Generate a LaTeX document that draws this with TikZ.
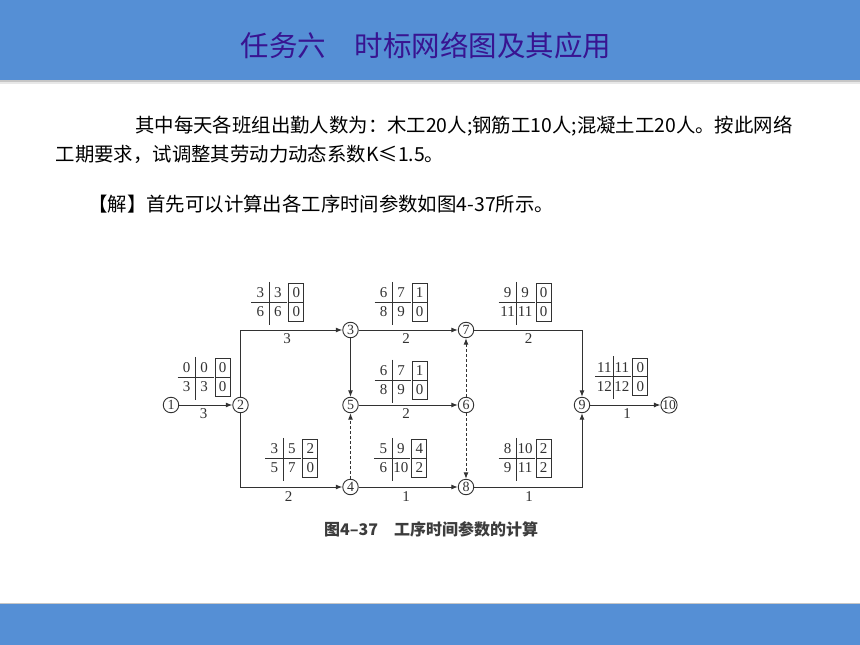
\documentclass[tikz,border=0pt]{standalone}
\usepackage{fontspec}
\usetikzlibrary{arrows.meta}
\newfontfamily\cjk{Noto Sans CJK SC}
\newfontfamily\dfont{Liberation Serif}
\definecolor{barblue}{RGB}{85,143,213}
\definecolor{titlecol}{RGB}{56,20,145}
\definecolor{lc}{RGB}{50,50,50}
\definecolor{capcol}{RGB}{60,60,60}
\tikzset{
  ev/.style={circle, draw=lc, line width=0.9pt, minimum size=15.5pt, inner sep=0pt, text=lc,
    font=\dfont\fontsize{14}{14}\selectfont},
  act/.style={draw=lc, line width=1pt, -{Latex[length=6.5pt,width=5pt]}},
  dum/.style={act, dash pattern=on 3pt off 2pt},
  lab/.style={inner sep=0pt, text=lc, font=\dfont\fontsize{15}{15}\selectfont},
  tl/.style={draw=lc, line width=0.9pt},
  tn/.style={inner sep=0pt, text=lc, font=\dfont\fontsize{15}{15}\selectfont},
  body/.style={anchor=base west, inner sep=0pt, text=black, font=\cjk\fontsize{19.4}{19.4}\selectfont}
}
% parameter table: name, cx, cy, TL, TR, BL, BR, box top, box bottom
\newcommand\ptab[9]{%
  \draw[tl] (#2-18,#3) -- (#2+18,#3);
  \draw[tl] (#2,#3-20.5) -- (#2,#3+22.5);
  \draw[tl] (#2+19.5,#3-18.5) rectangle (#2+34.5,#3+19);
  \draw[tl] (#2+19.5,#3) -- (#2+34.5,#3);
  \node[tn] (#1a) at (#2-9,#3-9.5) {#4};
  \node[tn] (#1b) at (#2+8.5,#3-9.5) {#5};
  \node[tn] (#1c) at (#2-9,#3+9.5) {#6};
  \node[tn] (#1d) at (#2+8.5,#3+9.5) {#7};
  \node[tn] (#1e) at (#2+27,#3-9.5) {#8};
  \node[tn] (#1f) at (#2+27,#3+9.5) {#9};
}
\begin{document}
\begin{tikzpicture}[x=1pt,y=-1pt]
\useasboundingbox (0,0) rectangle (860,645);
% bars
\fill[white] (0,0) rectangle (860,645);
\fill[gray!45] (0,80) rectangle (860,82);
\fill[gray!18] (0,82) rectangle (860,84);
\fill[barblue] (0,0) rectangle (860,80);
\fill[gray!45] (0,602.5) rectangle (860,604);
\fill[barblue] (0,604) rectangle (860,645);
% title
\node[anchor=base west, inner sep=0pt, text=titlecol, font=\cjk\fontsize{28.5}{28.5}\selectfont] (title) at (240.5,56.3) {任务六\hspace{28.5pt}时标网络图及其应用};
% body text
\node[body] (t1) at (135,132.5) {其中每天各班组出勤人数为：木工20人;钢筋工10人;混凝土工20人。按此网络};
\node[body] (t2) at (55.5,161.4) {工期要求，试调整其劳动力动态系数K≤1.5。};
\node[body] (t3) at (88,211.4) {【解】首先可以计算出各工序时间参数如图4-37所示。};
% events
\node[ev] (n1) at (171,405) {1};
\node[ev] (n2) at (240.5,405) {2};
\node[ev] (n3) at (350.5,330) {3};
\node[ev] (n4) at (350.5,487) {4};
\node[ev] (n5) at (350.5,405) {5};
\node[ev] (n6) at (466,405) {6};
\node[ev] (n7) at (466,330) {7};
\node[ev] (n8) at (466,487) {8};
\node[ev] (n9) at (582,405) {9};
\node[ev, font=\dfont\fontsize{13.5}{13.5}\selectfont] (n10) at (669,405) {10};
% activities
\draw[act] (n1) -- (n2);
\draw[act] (n2) |- (n3);
\draw[act] (n2) |- (n4);
\draw[act] (n3) -- (n7);
\draw[act] (n3) -- (n5);
\draw[act] (n5) -- (n6);
\draw[act] (n4) -- (n8);
\draw[act] (n7) -| (n9);
\draw[act] (n8) -| (n9);
\draw[act] (n9) -- (n10);
\draw[dum] (n4) -- (n5);
\draw[dum] (n6) -- (n7);
\draw[dum] (n6) -- (n8);
% durations
\node[lab] (d12) at (203.5,414) {3};
\node[lab] (d23) at (287,339) {3};
\node[lab] (d37) at (406,339) {2};
\node[lab] (d56) at (406,414) {2};
\node[lab] (d79) at (528.5,339) {2};
\node[lab] (d910) at (627,414) {1};
\node[lab] (d24) at (288.5,497) {2};
\node[lab] (d48) at (406,497) {1};
\node[lab] (d89) at (529,497) {1};
% parameter tables
\ptab{pa}{195.7}{377.3}{0}{0}{3}{3}{0}{0}
\ptab{pb}{269.3}{302.3}{3}{3}{6}{6}{0}{0}
\ptab{pc}{392.7}{302.3}{6}{7}{8}{9}{1}{0}
\ptab{pd}{392.7}{380}{6}{7}{8}{9}{1}{0}
\ptab{pe}{516.7}{302.3}{9}{9}{11}{11}{0}{0}
\ptab{pf}{613.3}{376.7}{11}{11}{12}{12}{0}{0}
\ptab{pg}{283.3}{458.3}{3}{5}{5}{7}{2}{0}
\ptab{ph}{392.3}{458.3}{5}{9}{6}{10}{4}{2}
\ptab{pi}{516.7}{458.3}{8}{10}{9}{11}{2}{2}
% caption
\node[anchor=base west, inner sep=0pt, text=capcol, font=\cjk\bfseries\fontsize{16}{16}\selectfont] (cap) at (324,535) {图4–37\hspace{16pt}工序时间参数的计算};
\end{tikzpicture}
\end{document}
